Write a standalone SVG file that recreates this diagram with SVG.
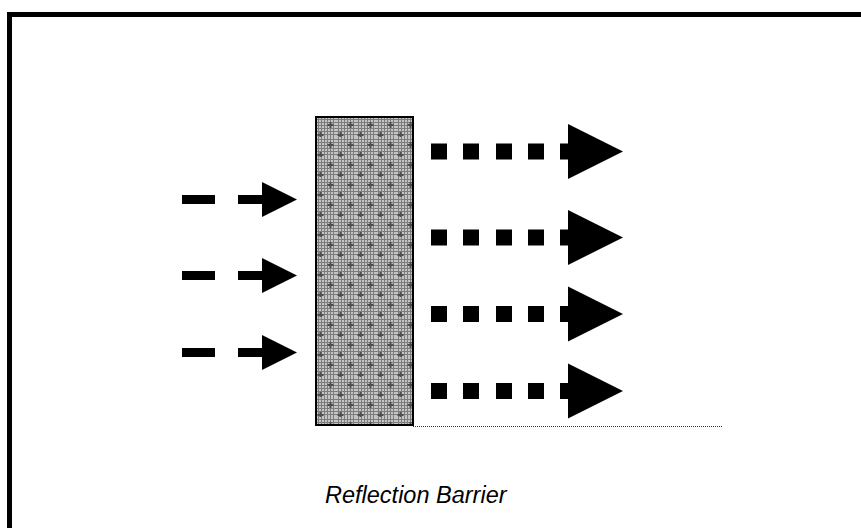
<svg xmlns="http://www.w3.org/2000/svg" width="861" height="528" viewBox="0 0 861 528">
  <style>
    .frame { fill: none; stroke: #000; stroke-width: 5; }
    .ink { fill: #000; }
    .caption { font-family: "Liberation Sans", Arial, sans-serif; font-style: italic; font-size: 23.5px; fill: #000; }
  </style>
  <defs>
    <!-- fine two-tone checker used as the barrier base texture -->
    <pattern id="checker" width="3" height="3" patternUnits="userSpaceOnUse">
      <rect width="3" height="3" fill="#7c7c7c"/>
      <rect x="0" y="0" width="2" height="2" fill="#c4c4c4"/>
    </pattern>
    <!-- barrier fill: checker plus staggered dark crosses -->
    <pattern id="barrierFill" x="316" y="117" width="20" height="20" patternUnits="userSpaceOnUse">
      <rect width="20" height="20" fill="url(#checker)"/>
      <g fill="#4e4e4e">
        <rect x="11.5" y="7" width="6" height="2"/>
        <rect x="13.5" y="5" width="2" height="6"/>
        <rect x="1.5" y="17" width="6" height="2"/>
        <rect x="3.5" y="15" width="2" height="6"/>
      </g>
    </pattern>
    <!-- incoming arrow: one dash, then a short shaft with a head -->
    <g id="inArrow">
      <rect x="182" y="-4.5" width="33" height="9"/>
      <rect x="238" y="-4.5" width="26" height="9"/>
      <polygon points="262,-17.5 297,0 262,17.5"/>
    </g>
    <!-- transmitted arrow: square dots, then a large head -->
    <g id="outArrow">
      <rect x="431" y="-8" width="16" height="16"/>
      <rect x="463" y="-8" width="16" height="16"/>
      <rect x="496" y="-8" width="16" height="16"/>
      <rect x="528" y="-8" width="16" height="16"/>
      <rect x="560" y="-8" width="14" height="16"/>
      <polygon points="568,-27.5 623,0 568,27.5"/>
    </g>
  </defs>

  <rect width="861" height="528" fill="#fff"/>

  <!-- outer frame, running off the right and bottom edges -->
  <rect class="frame" x="9.5" y="14.5" width="900" height="600"/>

  <g id="barrier">
    <rect x="316" y="117" width="97" height="308" fill="url(#barrierFill)" stroke="#000" stroke-width="2"/>
  </g>

  <g id="connectors" class="ink">
    <use href="#inArrow" transform="translate(0,199.5)"/>
    <use href="#inArrow" transform="translate(0,275.5)"/>
    <use href="#inArrow" transform="translate(0,352.5)"/>
    <use href="#outArrow" transform="translate(0,151.5)"/>
    <use href="#outArrow" transform="translate(0,237.5)"/>
    <use href="#outArrow" transform="translate(0,314)"/>
    <use href="#outArrow" transform="translate(0,391)"/>
    <!-- dotted baseline from the barrier foot -->
    <line x1="413" y1="426.5" x2="722" y2="426.5" stroke="#333" stroke-width="1" stroke-dasharray="1 1"/>
  </g>

  <g id="label">
    <text class="caption" x="325" y="503">Reflection Barrier</text>
  </g>
</svg>
